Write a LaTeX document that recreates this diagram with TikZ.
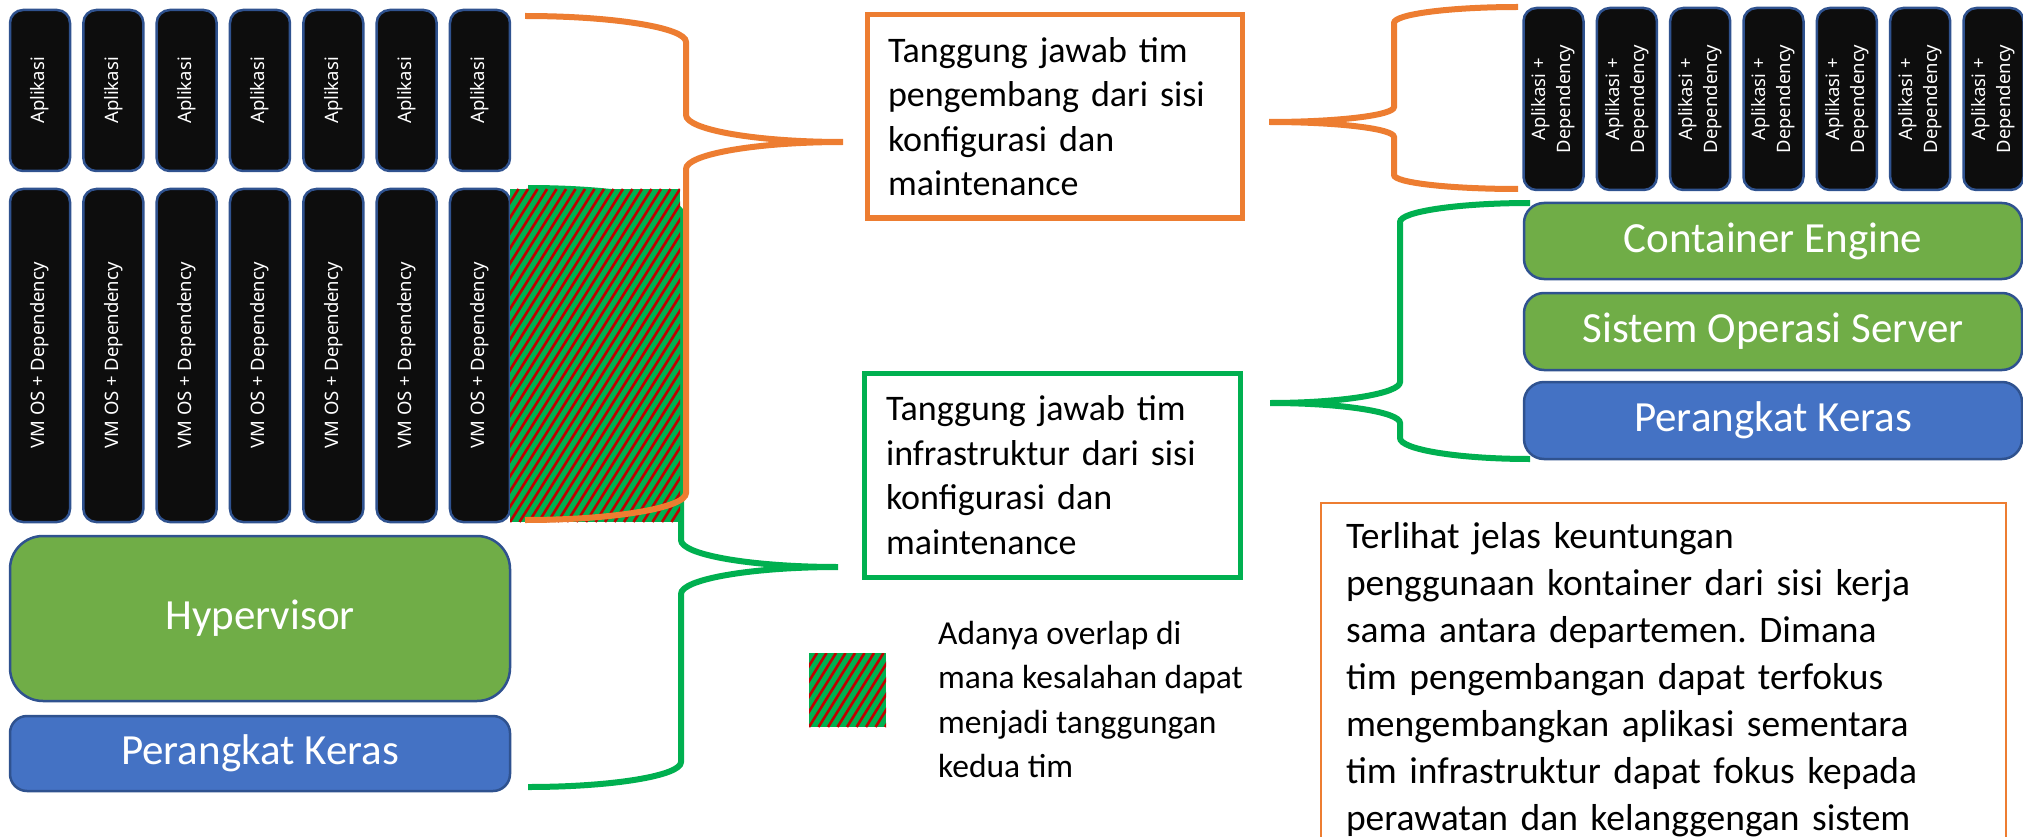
\documentclass[tikz,border=0pt]{standalone}
\usepackage{fontspec}
\setmainfont{Carlito}
\newfontfamily\osans{Noto Sans}
\definecolor{org}{HTML}{ED7D31}
\definecolor{grn}{HTML}{00B050}
\definecolor{boxgrn}{HTML}{70AD47}
\definecolor{boxblue}{HTML}{4472C4}
\definecolor{bord}{HTML}{2F528F}
\definecolor{blkc}{HTML}{0D0D0D}
\definecolor{hred}{HTML}{C00000}
\frenchspacing
\begin{document}
\begin{tikzpicture}[x=1pt,y=-1pt,
  blk/.style={draw=bord, line width=2.5pt, fill=blkc, rounded corners=13pt, rotate=90,
    minimum height=60pt, inner sep=0pt, outer sep=0pt, text=white, align=center,
    font=\osans\fontsize{18.5}{25}\selectfont},
  layer/.style={draw=bord, line width=2.5pt, text=white, inner sep=0pt, outer sep=0pt,
    font=\fontsize{43}{50}\selectfont},
  brace/.style={line width=6pt},
  note/.style={line width=5pt, anchor=north west, align=left, inner ysep=0pt, outer sep=0pt,
    font=\fontsize{36}{44.5}\selectfont},
  stripe/.style={hred, line width=2.6pt}
]
\useasboundingbox (0,0) rectangle (2023,837);

% ---- left stack (VM) ----
\foreach \i in {0,...,6} {
  \node[blk, minimum width=161pt] (app\i) at ({40+73.33*\i},90.5) {Aplikasi};
  \node[blk, minimum width=333pt] (vm\i) at ({40+73.33*\i},355.5) {VM OS + Dependency};
}
\node[layer, fill=boxgrn, rounded corners=33pt, minimum width=500pt, minimum height=165pt] (hyp) at (260,618.5) {Hypervisor};
\node[layer, fill=boxblue, rounded corners=17pt, minimum width=500pt, minimum height=75pt] (hwL) at (260,753.5) {Perangkat Keras};

% ---- right stack (containers) ----
\foreach \i in {0,...,6} {
  \node[blk, minimum width=182pt] (ca\i) at ({1553.5+73.33*\i},99) {Aplikasi +\\Dependency};
}
\node[layer, fill=boxgrn, rounded corners=20pt, minimum width=498pt, minimum height=76pt] (ce) at (1773,241) {Container Engine};
\node[layer, fill=boxgrn, rounded corners=20pt, minimum width=498pt, minimum height=77pt] (os) at (1773,331.5) {Sistem Operasi Server};
\node[layer, fill=boxblue, rounded corners=20pt, minimum width=498pt, minimum height=77pt] (hwR) at (1773,420.5) {Perangkat Keras};

% ---- text boxes ----
\node[note, draw=org, minimum width=375pt, minimum height=203pt, inner xsep=21pt, text width=333pt] (dev) at (867,15)
  {Tanggung jawab tim\\pengembang dari sisi\\konfigurasi dan\\maintenance};
\node[note, draw=grn, minimum width=376pt, minimum height=204pt, inner xsep=22pt, text width=332pt] (ops) at (864,373)
  {Tanggung jawab tim\\infrastruktur dari sisi\\konfigurasi dan\\maintenance};
\node[draw=org, line width=2pt, anchor=north west, outer sep=0pt, inner xsep=25pt, inner ysep=19pt,
  text width=635pt, align=left, font=\fontsize{37.5}{47}\selectfont] (sum) at (1321,503)
  {Terlihat jelas keuntungan\\penggunaan kontainer dari sisi kerja\\sama antara departemen. Dimana\\tim pengembangan dapat terfokus\\mengembangkan aplikasi sementara\\tim infrastruktur dapat fokus kepada\\perawatan dan kelanggengan sistem};
\node[anchor=north west, inner sep=0pt, align=left, font=\fontsize{33.5}{44.5}\selectfont] (legtxt) at (938,621)
  {Adanya overlap di\\mana kesalahan dapat\\menjadi tanggungan\\kedua tim};

% ---- brace coordinates ----
\coordinate (gLa) at (528,188);  \coordinate (gLb) at (528,787);  \coordinate (gLt) at (838,567);
\coordinate (oLa) at (525,16);   \coordinate (oLb) at (525,520);  \coordinate (oLt) at (843,142);
\coordinate (oRa) at (1518,7);   \coordinate (oRb) at (1518,189); \coordinate (oRt) at (1269,122);
\coordinate (gRa) at (1530,203); \coordinate (gRb) at (1530,459); \coordinate (gRt) at (1270,403);

% green brace, left (infrastructure, VM side)
\draw[brace, grn] (gLa) .. controls (612.15,188) and (681,199.25) .. (681,213) -- (681,540)
  .. controls (681,554.85) and (751.65,567) .. (gLt)
  .. controls (751.65,567) and (681,579.15) .. (681,594) -- (681,762)
  .. controls (681,775.75) and (612.15,787) .. (gLb);

% overlap hatch
\node[anchor=north west, minimum width=170pt, minimum height=333pt, inner sep=0pt, outer sep=0pt, fill=grn] (ovl) at (510,189) {};
\begin{scope}
  \clip (510,189) rectangle (680,522);
  \foreach \i in {-24,...,19} { \draw[stripe] ({510+9.5*\i},522) -- ++(208,-333); }
\end{scope}
% legend square
\node[anchor=north west, minimum width=77pt, minimum height=74pt, inner sep=0pt, outer sep=0pt, fill=grn] (leg) at (809,653) {};
\begin{scope}
  \clip (809,653) rectangle (886,727);
  \foreach \i in {-6,...,9} { \draw[stripe] ({809+9.5*\i},727) -- ++(46,-74); }
\end{scope}

% orange brace, left (developer, VM side)
\draw[brace, org] (oLa) .. controls (613.55,16) and (686,27.7) .. (686,42) -- (686,115)
  .. controls (686,129.85) and (756.65,142) .. (oLt)
  .. controls (756.65,142) and (686,154.15) .. (686,169) -- (686,493)
  .. controls (686,507.85) and (613.55,520) .. (oLb);

% orange brace, right (developer, container side)
\draw[brace, org] (oRa) .. controls (1449.8,7) and (1394,14.2) .. (1394,23) -- (1394,107)
  .. controls (1394,115.25) and (1337.75,122) .. (oRt)
  .. controls (1337.75,122) and (1394,128.75) .. (1394,137) -- (1394,175)
  .. controls (1394,182.7) and (1449.8,189) .. (oRb);

% green brace, right (infrastructure, container side)
\draw[brace, grn] (gRa) .. controls (1458.5,203) and (1400,211.55) .. (1400,222) -- (1400,382)
  .. controls (1400,393.55) and (1341.5,403) .. (gRt)
  .. controls (1341.5,403) and (1400,412) .. (1400,423) -- (1400,438)
  .. controls (1400,449.55) and (1458.5,459) .. (gRb);
\end{tikzpicture}
\end{document}
